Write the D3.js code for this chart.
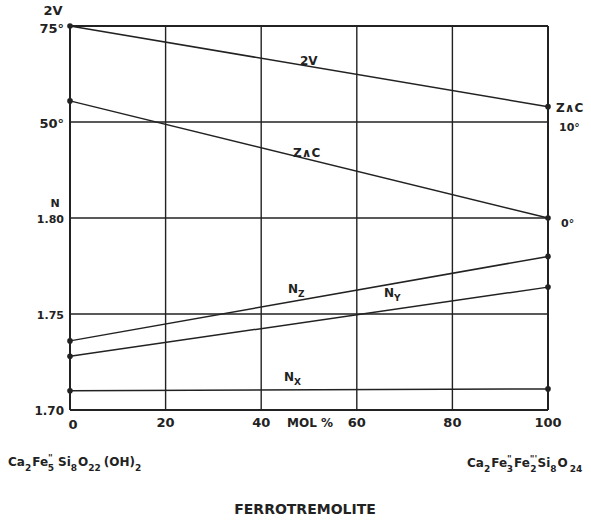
<!DOCTYPE html>
<html>
<head>
<meta charset="utf-8">
<script src="https://cdn.jsdelivr.net/npm/d3@7"></script>
<style>
  body { margin: 0; background: #fff; }
  text { font-family: "DejaVu Sans", sans-serif; fill: #222; }
</style>
</head>
<body>
<div id="chart"></div>
<script>
// mol % ferrotremolite end member
const molPct = [0, 100];
const twoV = [75, 54];          // degrees
const zAngleC = [12.2, 0];      // degrees
const nZ = [1.736, 1.780];
const nY = [1.728, 1.764];
const nX = [1.710, 1.711];
const xTicks = [0, 20, 40, 60, 80, 100];
const nGrid = [1.70, 1.75, 1.80, 1.85, 1.90];

const width = 591, height = 520;
const plotL = 70, plotR = 548, plotT = 26, plotB = 410;

const svg = d3.select('#chart').append('svg')
  .attr('width', width).attr('height', height);

const x = d3.scaleLinear().domain([0, 100]).range([plotL, plotR]);
const yN = d3.scaleLinear().domain([1.70, 1.90]).range([plotB, plotT]);
// 2V: 25 deg per grid band, 50 at 4th line, 75 at top
const y2V = d3.scaleLinear().domain([-25, 75]).range([plotB, plotT]);
// Z^c: 10 deg per grid band, 0 at 1.80 line
const yZc = d3.scaleLinear().domain([-20, 20]).range([plotB, plotT]);

const ink = '#222';

// grid
svg.append('g').selectAll('line')
  .data(nGrid).join('line')
  .attr('x1', plotL).attr('x2', plotR)
  .attr('y1', d => yN(d)).attr('y2', d => yN(d))
  .attr('stroke', ink).attr('stroke-width', d => (d == 1.70 || d == 1.90) ? 2 : 1.4);
svg.append('g').selectAll('line')
  .data(xTicks).join('line')
  .attr('x1', d => x(d)).attr('x2', d => x(d))
  .attr('y1', plotT).attr('y2', plotB)
  .attr('stroke', ink).attr('stroke-width', d => (d == 0 || d == 100) ? 2 : 1.4);

// curves
const series = [
  { vals: twoV, y: y2V },
  { vals: zAngleC, y: yZc },
  { vals: nZ, y: yN },
  { vals: nY, y: yN },
  { vals: nX, y: yN }
];
const line = d3.line();
series.forEach(s => {
  const pts = molPct.map((m, i) => [x(m), s.y(s.vals[i])]);
  svg.append('path').attr('d', line(pts))
    .attr('fill', 'none').attr('stroke', ink).attr('stroke-width', 1.5);
  svg.append('g').selectAll('circle').data(pts).join('circle')
    .attr('cx', d => d[0]).attr('cy', d => d[1]).attr('r', 2.8).attr('fill', ink);
});

const fs = 12;
function label(xp, yp, txt, anchor, size) {
  return svg.append('text').attr('x', xp).attr('y', yp)
    .attr('text-anchor', anchor || 'start')
    .attr('font-size', size || fs).attr('font-weight', 'bold').text(txt);
}

// left axis labels
label(53, 15, '2V', 'middle', 13);
label(64, 33, '75°', 'end', 13);
label(64, yN(1.85) + 6, '50°', 'end', 13);
label(55, yN(1.80) - 11, 'N', 'middle', 11);
label(64, yN(1.80) + 5, '1.80', 'end', 11);
label(64, yN(1.75) + 5, '1.75', 'end', 11);
label(64, yN(1.70) + 5, '1.70', 'end', 12);

// right axis labels
label(556, y2V(twoV[1]) + 5, 'Z∧C', 'start', 12);
label(559, yZc(10) + 9, '10°', 'start', 11);
label(561, yZc(0) + 9, '0°', 'start', 11);

// x ticks
svg.append('g').selectAll('text').data(xTicks).join('text')
  .attr('x', d => x(d) + (d == 0 ? 3 : 0)).attr('y', d => plotB + (d == 0 ? 19 : 17))
  .attr('text-anchor', 'middle').attr('font-size', 13).attr('font-weight', 'bold')
  .text(d => d);
label((x(40) + x(60)) / 2 + 1, plotB + 17, 'MOL  %', 'middle', 12);

// line labels
label(300, 65, '2V', 'start', 12);
label(293, 157, 'Z∧C', 'start', 12);
const nz = label(288, 293, 'N', 'start', 12);
nz.append('tspan').attr('dy', 4).attr('font-size', 9).text('Z');
const ny = label(384, 297, 'N', 'start', 12);
ny.append('tspan').attr('dy', 4).attr('font-size', 9).text('Y');
const nx = label(284, 381, 'N', 'start', 12);
nx.append('tspan').attr('dy', 4).attr('font-size', 9).text('X');

// formulas
function formula(xp, yp, parts) {
  const t = svg.append('text').attr('x', xp).attr('y', yp)
    .attr('font-size', 12).attr('font-weight', 'bold');
  let cur = 0;
  parts.forEach(p => {
    const off = p[1] == 'sub' ? 5 : p[1] == 'sup' ? -5 : 0;
    t.append('tspan').attr('dy', off - cur).attr('dx', p[2] || 0)
      .attr('font-size', p[1] ? 9 : 12).text(p[0]);
    cur = off;
  });
  return t;
}
formula(8, 466, [['Ca'], ['2', 'sub'], ['Fe', null, 1], ['"', 'sup'], ['5', 'sub', -5], ['Si', null, 4],
  ['8', 'sub'], ['O', null, 1], ['22', 'sub'], ['(OH)', null, 3], ['2', 'sub']]);
formula(467, 467, [['Ca'], ['2', 'sub'], ['Fe', null, 1], ['"', 'sup'], ['3', 'sub', -5], ['Fe', null, 1],
  ['"\'', 'sup'], ['2', 'sub', -7], ['Si', null, 1], ['8', 'sub'], ['O', null, 1], ['24', 'sub', 2]]);

label(305, 514, 'FERROTREMOLITE', 'middle', 14);
</script>
</body>
</html>
